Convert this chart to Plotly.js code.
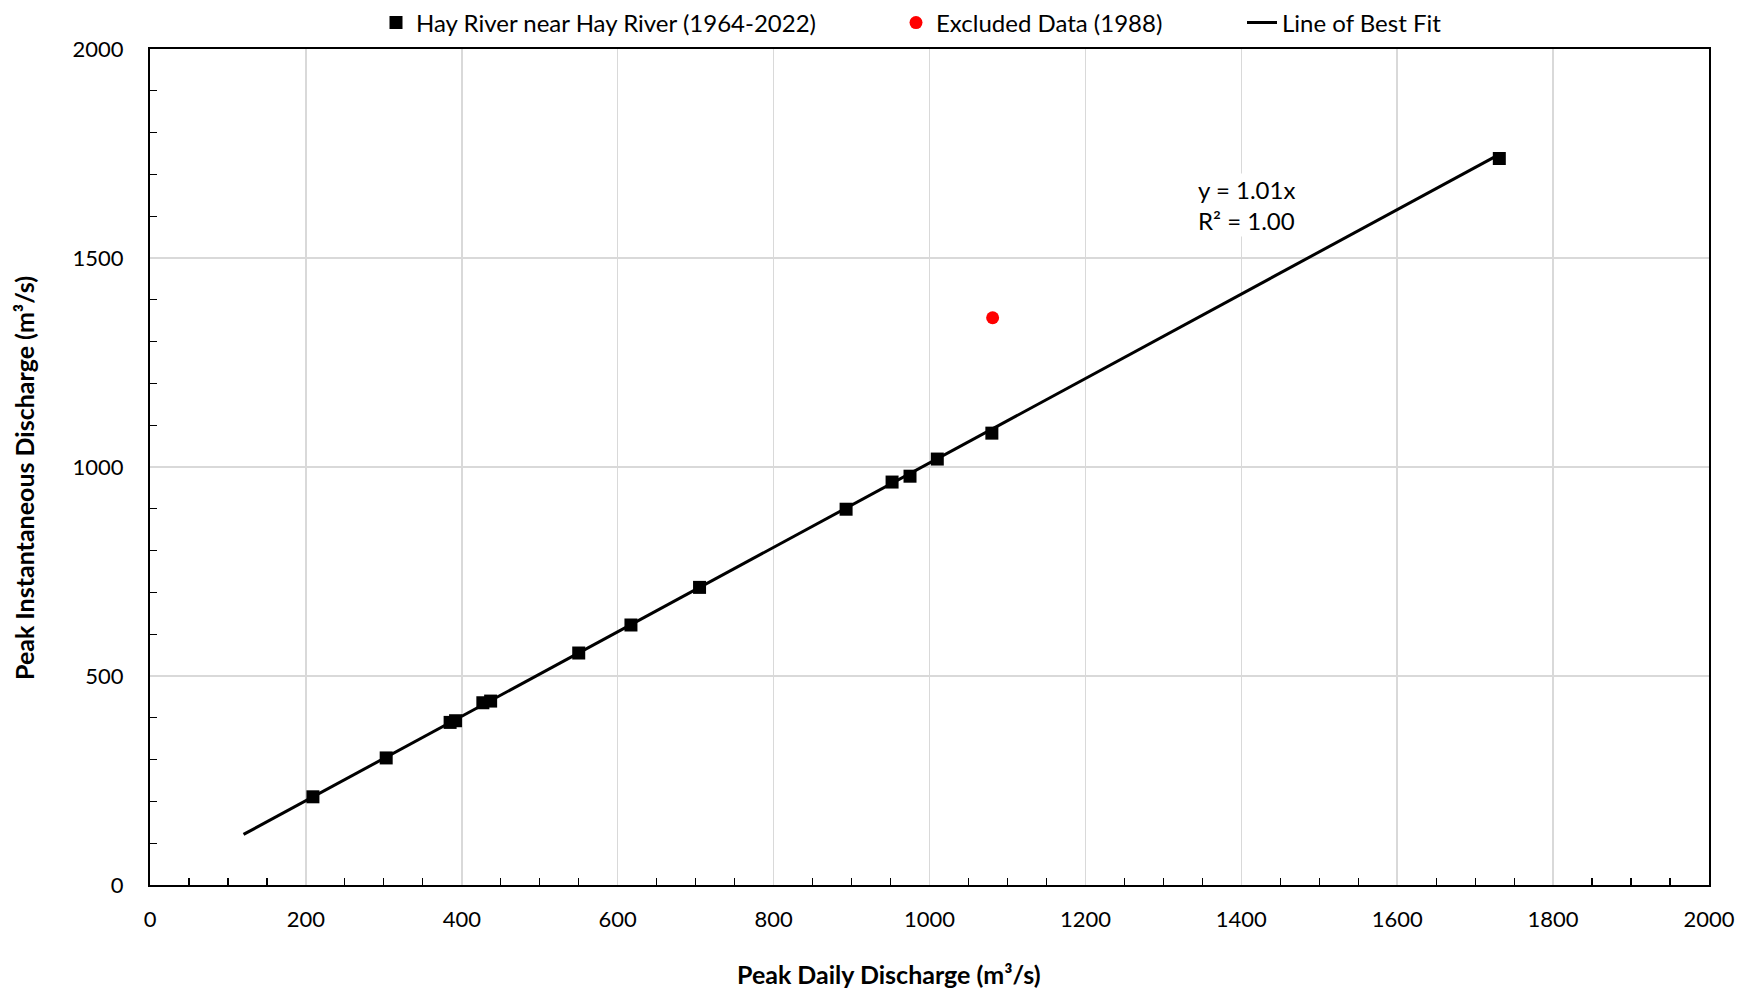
<!DOCTYPE html>
<html>
<head>
<meta charset="utf-8">
<script src="https://cdn.plot.ly/plotly-3.0.1.min.js"></script>
<style>html,body{margin:0;padding:0;background:#fff;}#chart{width:1741px;height:989px;}</style>
</head>
<body>
<div id="chart"></div>
<script>
// Data
const dailyPeak = [209, 303, 385, 392, 427, 437, 550, 617, 705, 893, 952, 975, 1010, 1080, 1731];
const instPeak  = [211, 304, 389, 393, 436, 440, 555, 622, 712, 899, 964, 978, 1019, 1081, 1738];
const excludedX = [1081];
const excludedY = [1357];
const fitX = [120, 1731];
const fitY = [121, 1748];
const fitLabel = 'y = 1.01x<br>R² = 1.00';
const seriesNames = ['Hay River near Hay River (1964-2022)', 'Excluded Data (1988)', 'Line of Best Fit'];
const xTitle = 'Peak Daily Discharge (m³/s)';
const yTitle = 'Peak Instantaneous Discharge (m³/s)';

const FONT = 'Lato, "Open Sans", sans-serif';

const traces = [
  {x: fitX, y: fitY, mode: 'lines', name: seriesNames[2], legend: 'legend3',
   line: {color: '#000', width: 3}, hoverinfo: 'skip'},
  {x: dailyPeak, y: instPeak, mode: 'markers', name: seriesNames[0], legend: 'legend',
   marker: {symbol: 'square', size: 13, color: '#000'}},
  {x: excludedX, y: excludedY, mode: 'markers', name: seriesNames[1], legend: 'legend2',
   marker: {symbol: 'circle', size: 13, color: '#ff0000'}}
];

const legendBase = {orientation: 'h', yref: 'container', yanchor: 'middle', y: 1 - 23/989,
  xref: 'container', xanchor: 'left',
  font: {family: FONT, size: 24, color: '#000'}, bgcolor: 'rgba(0,0,0,0)', borderwidth: 0};

const layout = {
  width: 1741, height: 989,
  margin: {l: 150, r: 32, t: 49, b: 104},
  paper_bgcolor: '#fff', plot_bgcolor: '#fff',
  font: {family: FONT, size: 22, color: '#000'},
  showlegend: true,
  legend: Object.assign({}, legendBase, {x: 376/1741}),
  legend2: Object.assign({}, legendBase, {x: 896/1741}),
  legend3: Object.assign({}, legendBase, {x: 1242/1741}),
  xaxis: {
    range: [0, 2000], dtick: 200, tick0: 0,
    showgrid: true, gridcolor: '#d9d9d9', gridwidth: 1.5,
    showline: true, linecolor: '#000', linewidth: 2, mirror: true,
    ticks: '', ticklabelstandoff: 14, zeroline: false,
    tickfont: {family: FONT, size: 22, color: '#000'},
    minor: {dtick: 50, tick0: 0, ticks: 'inside', ticklen: 7, tickwidth: 1.2, tickcolor: '#000', showgrid: false}
  },
  yaxis: {
    range: [0, 2000], dtick: 500, tick0: 0,
    showgrid: true, gridcolor: '#d9d9d9', gridwidth: 1.5,
    showline: true, linecolor: '#000', linewidth: 2, mirror: true,
    ticks: '', ticklabelstandoff: 20, zeroline: false,
    tickfont: {family: FONT, size: 22, color: '#000'},
    minor: {dtick: 100, tick0: 0, ticks: 'inside', ticklen: 7, tickwidth: 1.2, tickcolor: '#000', showgrid: false}
  },
  annotations: [
    {x: 1342, y: 1626, xref: 'x', yref: 'y', xanchor: 'left', yanchor: 'middle',
     text: fitLabel, showarrow: false, align: 'left', bgcolor: '#fff',
     font: {family: FONT, size: 24, color: '#000'}},
    {x: 0, y: 0, xref: 'paper', yref: 'paper', xanchor: 'center', yanchor: 'middle',
     text: '<b>' + xTitle + '</b>', showarrow: false,
     font: {family: FONT, size: 25, color: '#000'}},
    {x: 0, y: 0, xref: 'paper', yref: 'paper', xanchor: 'center', yanchor: 'middle',
     text: '<b>' + yTitle + '</b>', showarrow: false, textangle: -90,
     font: {family: FONT, size: 25, color: '#000'}}
  ]
};
// place the axis-title annotations from container pixels to paper fractions
const pw = 1741 - layout.margin.l - layout.margin.r, ph = 989 - layout.margin.t - layout.margin.b;
layout.annotations[1].x = (889 - layout.margin.l) / pw;
layout.annotations[1].y = (989 - layout.margin.b - 974) / ph;
layout.annotations[2].x = (24 - layout.margin.l) / pw;
layout.annotations[2].y = (989 - layout.margin.b - 478) / ph;

Plotly.newPlot('chart', traces, layout, {displayModeBar: false, staticPlot: true});
</script>
</body>
</html>
